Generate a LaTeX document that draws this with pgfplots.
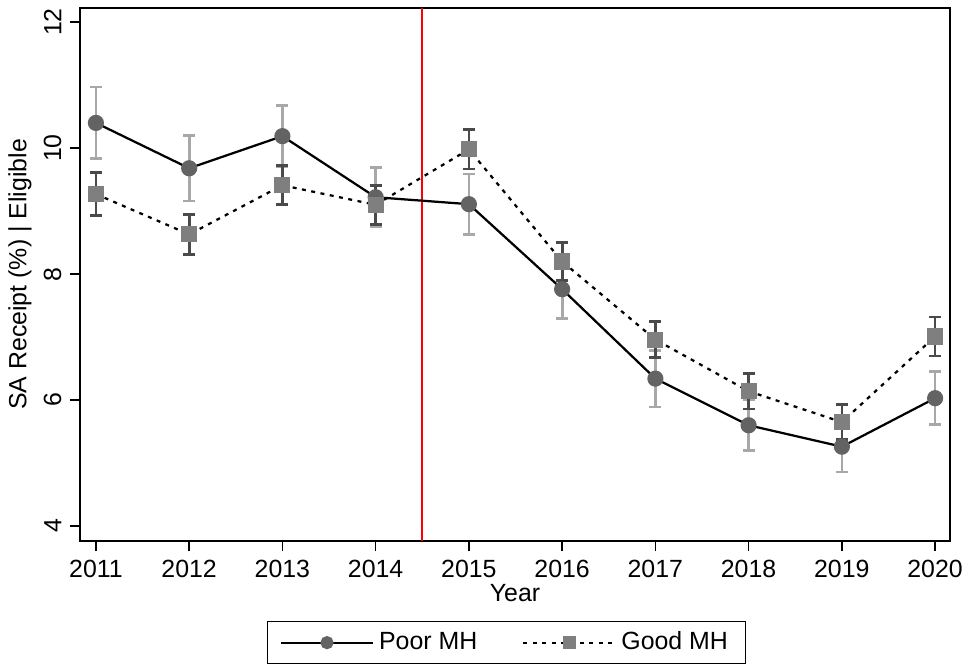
\documentclass[border=0pt]{standalone}
\usepackage{pgfplots}
\pgfplotsset{compat=1.18}
\usepackage{pgfplotstable}
\usepackage{fontspec}
\setmainfont{Liberation Sans}

\definecolor{poorerr}{HTML}{A8A8A8}
\definecolor{gooderr}{HTML}{4A4A4A}
\definecolor{poormark}{HTML}{636363}
\definecolor{goodmark}{HTML}{7F7F7F}

% year, poor MH, error, good MH, error
\pgfplotstableread{
year poor perr good gerr
2011 10.40 0.57 9.27 0.34
2012 9.68 0.52 8.63 0.32
2013 10.19 0.49 9.41 0.31
2014 9.22 0.47 9.10 0.31
2015 9.11 0.48 9.98 0.31
2016 7.76 0.46 8.20 0.30
2017 6.34 0.45 6.96 0.29
2018 5.60 0.40 6.14 0.28
2019 5.26 0.40 5.65 0.28
2020 6.03 0.42 7.01 0.31
}\data

\begin{document}
\begin{tikzpicture}
\begin{axis}[
  scale only axis,
  width=349.6pt, height=214.4pt,
  xmin=2010.83, xmax=2020.16,
  ymin=3.76, ymax=12.23,
  xtick={2011,2012,...,2020},
  ytick={4,6,8,10,12},
  /pgf/number format/assume math mode=true,
  /pgf/number format/1000 sep={},
  tick align=outside,
  xtick pos=bottom, ytick pos=left,
  major tick length=4pt,
  tick style={black, line width=0.6pt},
  axis line style={line width=0.8pt},
  yticklabel style={rotate=90, anchor=south},
  xlabel={Year},
  ylabel={SA Receipt (\%) | Eligible},
  xlabel style={yshift=4pt},
  ylabel style={yshift=-2pt},
  legend style={at={(0.49,-0.15)}, anchor=north, legend columns=2,
    draw=black, line width=0.5pt, inner xsep=5pt, inner ysep=2pt,
    /tikz/every even column/.append style={column sep=16pt}},
  legend cell align=left,
  legend image code/.code={%
    \draw[mark repeat=2, mark phase=2, mark size=2.2pt]
      plot coordinates {(0pt,0pt) (18.5pt,0pt) (37pt,0pt)};},
]

\addplot[red, line width=0.8pt, forget plot] coordinates {(2014.5,3.76) (2014.5,12.23)};

\addplot[black, line width=0.9pt, mark=*, mark size=2.8pt,
  mark options={fill=poormark, draw=poormark, solid},
  error bars/.cd, y dir=both, y explicit,
  error bar style={poorerr, line width=1.1pt, solid},
  error mark options={rotate=90, mark size=2.4pt, poorerr, line width=1.1pt}]
  table[x=year, y=poor, y error=perr] {\data};
\addlegendentry{Poor MH}

\addplot[black, line width=0.9pt, dash pattern=on 1.6pt off 2.2pt,
  mark=square*, mark size=2.8pt,
  mark options={fill=goodmark, draw=goodmark, solid},
  error bars/.cd, y dir=both, y explicit,
  error bar style={gooderr, line width=1.1pt, solid},
  error mark options={rotate=90, mark size=2.4pt, gooderr, line width=1.1pt}]
  table[x=year, y=good, y error=gerr] {\data};
\addlegendentry{Good MH}

\end{axis}
\end{tikzpicture}
\end{document}
